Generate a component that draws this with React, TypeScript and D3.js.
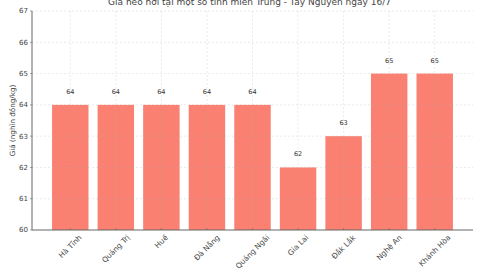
import React, { useEffect, useRef } from "react";
import * as d3 from "d3";

const provinces = ["Hà Tĩnh", "Quảng Trị", "Huế", "Đà Nẵng", "Quảng Ngãi", "Gia Lai", "Đắk Lắk", "Nghệ An", "Khánh Hòa"];
const prices = [64, 64, 64, 64, 64, 62, 63, 65, 65];
const yTicks = [60, 61, 62, 63, 64, 65, 66, 67];
const title = "Giá heo hơi tại một số tỉnh miền Trung - Tây Nguyên ngày 16/7";
const yLabel = "Giá (nghìn đồng/kg)";

const W = 480;
const H = 270;
const left = 32;
const right = 473;
const top = 11;
const bottom = 230;
const FONT = "DejaVu Sans, sans-serif";

export default function App() {
  const ref = useRef<SVGSVGElement | null>(null);

  useEffect(() => {
    const svg = d3.select(ref.current);
    svg.selectAll("*").remove();

    const n = provinces.length;
    const x = d3.scaleLinear().domain([-0.84, n - 1 + 0.84]).range([left, right]);
    const y = d3.scaleLinear().domain([60, 67]).range([bottom, top]);
    const barW = x(0.4) - x(-0.4);

    svg.append("rect").attr("width", W).attr("height", H).attr("fill", "#fff");

    // bars
    svg.append("g")
      .selectAll("rect")
      .data(prices)
      .join("rect")
      .attr("x", (_, i) => x(i) - barW / 2)
      .attr("width", barW)
      .attr("y", (d) => y(d))
      .attr("height", (d) => y(60) - y(d))
      .attr("fill", "#FA8072");

    // grid
    const grid = svg.append("g").attr("stroke", "#b0b0b0").attr("stroke-opacity", 0.45)
      .attr("stroke-width", 0.6).attr("stroke-dasharray", "2,2");
    grid.selectAll("line.h").data(yTicks.slice(1)).join("line")
      .attr("x1", left).attr("x2", right).attr("y1", (d) => y(d)).attr("y2", (d) => y(d));
    grid.selectAll("line.v").data(provinces).join("line")
      .attr("x1", (_, i) => x(i)).attr("x2", (_, i) => x(i)).attr("y1", top).attr("y2", bottom);

    // value labels
    svg.append("g")
      .selectAll("text")
      .data(prices)
      .join("text")
      .attr("x", (_, i) => x(i))
      .attr("y", (d) => y(d) - 11)
      .attr("text-anchor", "middle")
      .attr("font-family", FONT)
      .attr("font-size", 6.5)
      .attr("fill", "#333")
      .text((d) => String(d));

    // spines
    svg.append("line").attr("x1", left).attr("x2", left).attr("y1", top).attr("y2", bottom)
      .attr("stroke", "#666").attr("stroke-width", 1);
    svg.append("line").attr("x1", left).attr("x2", right).attr("y1", bottom).attr("y2", bottom)
      .attr("stroke", "#666").attr("stroke-width", 1);

    // y ticks
    const yt = svg.append("g");
    yt.selectAll("line").data(yTicks).join("line")
      .attr("x1", left - 2).attr("x2", left).attr("y1", (d) => y(d)).attr("y2", (d) => y(d))
      .attr("stroke", "#666").attr("stroke-width", 0.6);
    yt.selectAll("text").data(yTicks).join("text")
      .attr("x", left - 4).attr("y", (d) => y(d)).attr("dy", "0.35em")
      .attr("text-anchor", "end").attr("font-family", FONT).attr("font-size", 7).attr("fill", "#444")
      .text((d) => String(d));

    // x ticks
    svg.append("g").selectAll("line").data(provinces).join("line")
      .attr("x1", (_, i) => x(i)).attr("x2", (_, i) => x(i)).attr("y1", bottom).attr("y2", bottom - 2)
      .attr("stroke", "#666").attr("stroke-width", 0.6);

    const xl = svg.append("g").selectAll("text").data(provinces).join("text")
      .attr("text-anchor", "middle")
      .attr("dominant-baseline", "central")
      .attr("font-family", FONT).attr("font-size", 7.5).attr("fill", "#444")
      .text((d) => d);
    xl.each(function (_, i) {
      const el = this as SVGTextElement;
      const b = el.getBBox();
      const half = (b.width + b.height) / (2 * Math.SQRT2);
      d3.select(el).attr("transform", `translate(${x(i)},${bottom + 3 + half}) rotate(-45)`);
    });

    // y label
    svg.append("text")
      .attr("transform", `translate(12,${(top + bottom) / 2}) rotate(-90)`)
      .attr("text-anchor", "middle").attr("dominant-baseline", "central")
      .attr("font-family", FONT).attr("font-size", 7.2).attr("fill", "#444")
      .text(yLabel);

    // title
    svg.append("text")
      .attr("x", (left + right) / 2 - 3).attr("y", 5)
      .attr("text-anchor", "middle")
      .attr("font-family", FONT).attr("font-size", 9).attr("fill", "#444")
      .text(title);
  }, []);

  return (
    <svg ref={ref} width={W} height={H} style={{ position: "absolute", left: 0, top: 0, display: "block" }} />
  );
}
